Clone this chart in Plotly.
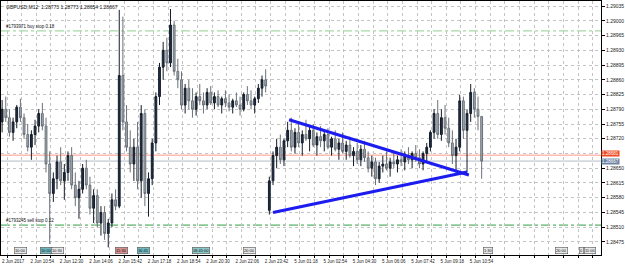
import plotly.graph_objects as go

# ---------------- data ----------------
OPEN = [1.28760, 1.28790, 1.28770, 1.28735, 1.28760, 1.28795, 1.28770, 1.28730, 1.28700, 1.28730,
        1.28750, 1.28780, 1.28750, 1.28660, 1.28590, 1.28625, 1.28665, 1.28620, 1.28640, 1.28680,
        1.28610, 1.28580, 1.28600, 1.28650, 1.28610, 1.28555, 1.28585, 1.28520, 1.28545, 1.28495,
        1.28520, 1.28575, 1.28560, 1.28870, 1.28760, 1.28700, 1.28660, 1.28700, 1.28620, 1.28780,
        1.28590, 1.28625, 1.28710, 1.28820, 1.28890, 1.28930, 1.28900, 1.28990, 1.28880, 1.28860,
        1.28800, 1.28840, 1.28810, 1.28790, 1.28820, 1.28810, 1.28800, 1.28830, 1.28805, 1.28820,
        1.28800, 1.28815, 1.28805, 1.28795, 1.28810, 1.28800, 1.28790, 1.28825, 1.28810, 1.28800,
        1.28815, 1.28840, 1.28860, 1.28550, 1.28620, 1.28680, 1.28700, 1.28670, 1.28715, 1.28740,
        1.28700, 1.28735, 1.28710, 1.28730, 1.28720, 1.28740, 1.28705, 1.28725, 1.28715, 1.28730,
        1.28700, 1.28720, 1.28695, 1.28710, 1.28690, 1.28705, 1.28680, 1.28690, 1.28670, 1.28695,
        1.28675, 1.28650, 1.28665, 1.28625, 1.28655, 1.28660, 1.28650, 1.28665, 1.28660, 1.28670,
        1.28665, 1.28680, 1.28670, 1.28685, 1.28675, 1.28660, 1.28685, 1.28700, 1.28735, 1.28780,
        1.28730, 1.28770, 1.28745, 1.28710, 1.28680, 1.28700, 1.28810, 1.28740, 1.28780, 1.28830,
        1.28790, 1.28773]
HIGH = [1.28812, 1.28820, 1.28790, 1.28770, 1.28800, 1.28815, 1.28780, 1.28755, 1.28740, 1.28765,
        1.28790, 1.28805, 1.28770, 1.28690, 1.28640, 1.28680, 1.28700, 1.28660, 1.28690, 1.28700,
        1.28640, 1.28620, 1.28660, 1.28670, 1.28630, 1.28600, 1.28600, 1.28560, 1.28560, 1.28530,
        1.28590, 1.28600, 1.29026, 1.29010, 1.28800, 1.28740, 1.28720, 1.28760, 1.28800, 1.28790,
        1.28640, 1.28720, 1.28830, 1.28900, 1.28950, 1.28960, 1.29028, 1.29000, 1.28910, 1.28880,
        1.28850, 1.28860, 1.28840, 1.28830, 1.28850, 1.28830, 1.28840, 1.28845, 1.28830, 1.28835,
        1.28820, 1.28835, 1.28825, 1.28815, 1.28830, 1.28820, 1.28830, 1.28845, 1.28835, 1.28820,
        1.28850, 1.28870, 1.28885, 1.28630, 1.28690, 1.28720, 1.28730, 1.28720, 1.28760, 1.28770,
        1.28745, 1.28760, 1.28740, 1.28765, 1.28750, 1.28755, 1.28735, 1.28750, 1.28740, 1.28745,
        1.28725, 1.28740, 1.28720, 1.28735, 1.28715, 1.28725, 1.28700, 1.28710, 1.28705, 1.28715,
        1.28690, 1.28680, 1.28675, 1.28665, 1.28680, 1.28690, 1.28675, 1.28690, 1.28680, 1.28695,
        1.28690, 1.28700, 1.28690, 1.28705, 1.28695, 1.28690, 1.28710, 1.28740, 1.28790, 1.28812,
        1.28790, 1.28800, 1.28770, 1.28740, 1.28720, 1.28824, 1.28820, 1.28790, 1.28850, 1.28840,
        1.28820, 1.28773]
LOW = [1.28735, 1.28760, 1.28725, 1.28715, 1.28745, 1.28760, 1.28720, 1.28690, 1.28670, 1.28705,
       1.28735, 1.28740, 1.28640, 1.28470, 1.28570, 1.28600, 1.28610, 1.28575, 1.28620, 1.28600,
       1.28560, 1.28530, 1.28590, 1.28600, 1.28540, 1.28520, 1.28510, 1.28490, 1.28480, 1.28462,
       1.28510, 1.28550, 1.28555, 1.28740, 1.28690, 1.28640, 1.28620, 1.28600, 1.28580, 1.28560,
       1.28535, 1.28610, 1.28690, 1.28800, 1.28860, 1.28880, 1.28890, 1.28870, 1.28840, 1.28790,
       1.28780, 1.28790, 1.28770, 1.28775, 1.28800, 1.28780, 1.28790, 1.28800, 1.28790, 1.28795,
       1.28780, 1.28795, 1.28785, 1.28780, 1.28795, 1.28775, 1.28785, 1.28800, 1.28790, 1.28780,
       1.28805, 1.28820, 1.28830, 1.28540, 1.28610, 1.28650, 1.28660, 1.28655, 1.28700, 1.28690,
       1.28685, 1.28700, 1.28680, 1.28715, 1.28690, 1.28700, 1.28680, 1.28700, 1.28690, 1.28695,
       1.28680, 1.28690, 1.28670, 1.28685, 1.28670, 1.28675, 1.28655, 1.28660, 1.28655, 1.28665,
       1.28640, 1.28630, 1.28610, 1.28615, 1.28640, 1.28645, 1.28630, 1.28650, 1.28640, 1.28655,
       1.28645, 1.28660, 1.28650, 1.28665, 1.28650, 1.28645, 1.28665, 1.28690, 1.28720, 1.28720,
       1.28715, 1.28730, 1.28700, 1.28660, 1.28640, 1.28690, 1.28720, 1.28640, 1.28760, 1.28770,
       1.28740, 1.28625]
CLOSE = [1.28790, 1.28770, 1.28735, 1.28760, 1.28795, 1.28770, 1.28730, 1.28700, 1.28730, 1.28750,
         1.28780, 1.28750, 1.28660, 1.28590, 1.28625, 1.28665, 1.28620, 1.28640, 1.28680, 1.28610,
         1.28580, 1.28600, 1.28650, 1.28610, 1.28555, 1.28585, 1.28520, 1.28545, 1.28495, 1.28520,
         1.28575, 1.28560, 1.28870, 1.28760, 1.28700, 1.28660, 1.28700, 1.28620, 1.28780, 1.28590,
         1.28625, 1.28710, 1.28820, 1.28890, 1.28930, 1.28900, 1.28990, 1.28880, 1.28860, 1.28800,
         1.28840, 1.28810, 1.28790, 1.28820, 1.28810, 1.28800, 1.28830, 1.28805, 1.28820, 1.28800,
         1.28815, 1.28805, 1.28795, 1.28810, 1.28800, 1.28790, 1.28825, 1.28810, 1.28800, 1.28815,
         1.28840, 1.28860, 1.28845, 1.28620, 1.28680, 1.28700, 1.28670, 1.28715, 1.28740, 1.28700,
         1.28735, 1.28710, 1.28730, 1.28720, 1.28740, 1.28705, 1.28725, 1.28715, 1.28730, 1.28700,
         1.28720, 1.28695, 1.28710, 1.28690, 1.28705, 1.28680, 1.28690, 1.28670, 1.28695, 1.28675,
         1.28650, 1.28665, 1.28625, 1.28655, 1.28660, 1.28650, 1.28665, 1.28660, 1.28670, 1.28665,
         1.28680, 1.28670, 1.28685, 1.28675, 1.28660, 1.28685, 1.28700, 1.28735, 1.28780, 1.28730,
         1.28770, 1.28745, 1.28710, 1.28680, 1.28700, 1.28810, 1.28740, 1.28780, 1.28830, 1.28790,
         1.28773, 1.28667]

TIME_LABELS = ["2 Jun 2017", "2 Jun 10:54", "2 Jun 12:30", "2 Jun 14:06", "2 Jun 15:42",
               "2 Jun 17:18", "2 Jun 18:54", "2 Jun 20:30", "2 Jun 22:06", "2 Jun 23:42",
               "5 Jun 01:18", "5 Jun 02:54", "5 Jun 04:30", "5 Jun 06:06", "5 Jun 07:42",
               "5 Jun 09:18", "5 Jun 10:54"]
PRICE_TICKS = [1.28475, 1.28510, 1.28545, 1.28580, 1.28615, 1.28650, 1.28685, 1.28720, 1.28755,
               1.28790, 1.28825, 1.28860, 1.28895, 1.28930, 1.28965, 1.29000, 1.29035]
HIDDEN_TICK = 1.28685  # covered by the price boxes in the reference

# triangle trend lines (bar index, price)
UPPER_LINE_X = [78.4, 127.5]
UPPER_LINE_Y = [1.28765, 1.28634]
LOWER_LINE_X = [74.0, 127.0]
LOWER_LINE_Y = [1.28545, 1.28641]

BUY_STOP = 1.28976
SELL_STOP = 1.28515
ASK = 1.28681
BID = 1.28667

TITLE = "GBPUSD,M12  1.28773 1.28773 1.28654 1.28667"

# calendar event markers: (bar position, text, fill colour)
EVENTS = [(4.9, "10:00", "#e8e8e8"), (12.1, "10:00", "#6fb8c0"), (15.1, "10:30", "#e8e8e8"),
          (32.5, "15:30", "#d89090"), (38.5, "16:45", "#6fb8c0"), (54.3, "18:45:00", "#8cc8c8"),
          (67.7, "20:00", "#e8e8e8"), (132.7, "1:30", "#e8e8e8"), (152.7, "20:00", "#e8e8e8"),
          (158.2, "0", "#e8e8e8"), (160.6, "11:00", "#e8e8e8")]

FONT = "Liberation Sans"

fig = go.Figure()
fig.add_trace(go.Candlestick(
    x=list(range(len(OPEN))), open=OPEN, high=HIGH, low=LOW, close=CLOSE,
    increasing=dict(line=dict(color="#141c28", width=1), fillcolor="#1f3048"),
    decreasing=dict(line=dict(color="#6a7178", width=1), fillcolor="#a6acb2"),
    whiskerwidth=0, showlegend=False))

for xs, ys in ((UPPER_LINE_X, UPPER_LINE_Y), (LOWER_LINE_X, LOWER_LINE_Y)):
    fig.add_trace(go.Scatter(x=xs, y=ys, mode="lines", line=dict(color="#1c1cf0", width=3),
                             showlegend=False, hoverinfo="skip"))

def hline(y, color, dash, width=1):
    fig.add_shape(type="line", xref="paper", x0=0, x1=1, yref="y", y0=y, y1=y,
                  line=dict(color=color, width=width, dash=dash), layer="below")

hline(BUY_STOP, "#8fd08f", "dashdot")
hline(SELL_STOP, "#2f9f3f", "dashdot")
hline(ASK, "#ff9a88", "solid")
hline(BID, "#b4bcc8", "solid")

ann = []
ann.append(dict(text=TITLE, xref="paper", yref="paper", x=0.005, y=0.995, xanchor="left",
                yanchor="top", showarrow=False, font=dict(size=5, family=FONT, color="#111")))
ann.append(dict(text="#1793971 buy stop 0.18", xref="paper", yref="y", x=0.005, y=BUY_STOP,
                xanchor="left", yanchor="bottom", yshift=0, showarrow=False,
                font=dict(size=4.5, family=FONT, color="#111")))
ann.append(dict(text="#1793245 sell stop 0.12", xref="paper", yref="y", x=0.005, y=SELL_STOP,
                xanchor="left", yanchor="bottom", yshift=0, showarrow=False,
                font=dict(size=4.5, family=FONT, color="#111")))
ann.append(dict(text="%.5f" % ASK, xref="paper", yref="y", x=1.0, y=ASK, xanchor="left",
                yanchor="bottom", yshift=-2, showarrow=False, bgcolor="#f04a23", borderpad=0,
                font=dict(size=4.5, family=FONT, color="white")))
ann.append(dict(text="%.5f" % BID, xref="paper", yref="y", x=1.0, y=ASK, xanchor="left",
                yanchor="top", yshift=-3, showarrow=False, bgcolor="#6d84a3", borderpad=0,
                font=dict(size=4.5, family=FONT, color="white")))
for xpos, txt, col in EVENTS:
    ann.append(dict(text=txt, xref="x", yref="paper", x=xpos, y=0.016, xanchor="center",
                    yanchor="middle", showarrow=False, bgcolor=col, bordercolor="#555",
                    borderwidth=0.6, borderpad=0.3, font=dict(size=4, family=FONT, color="#111")))

grid_vals = [1.35 + 4 * k for k in range(41)]
grid_text = [TIME_LABELS[k // 2] if (k % 2 == 0 and k // 2 < len(TIME_LABELS)) else "" for k in range(41)]
price_text = ["" if v == HIDDEN_TICK else "%.5f" % v for v in PRICE_TICKS]

fig.update_layout(
    width=625, height=265,
    margin=dict(l=1, r=24, t=1, b=10),
    paper_bgcolor="white", plot_bgcolor="white",
    annotations=ann,
    xaxis=dict(range=[-0.3, 163.6], tickvals=grid_vals, ticktext=grid_text,
               showgrid=True, gridcolor="#c4c4c4", griddash="dot", gridwidth=1,
               ticks="outside", ticklen=2, tickcolor="#000", ticklabelshift=6,
               tickfont=dict(size=4.5, family=FONT, color="#222"),
               showline=True, linecolor="#000", linewidth=1, mirror=True,
               rangeslider=dict(visible=False), zeroline=False, fixedrange=True),
    yaxis=dict(side="right", range=[1.28444, 1.29047], tickvals=PRICE_TICKS,
               ticktext=price_text,
               showgrid=True, gridcolor="#c4c4c4", griddash="dot", gridwidth=1,
               ticks="outside", ticklen=3, tickcolor="#000",
               tickfont=dict(size=5, family=FONT, color="#222"),
               showline=True, linecolor="#000", linewidth=1, mirror=True, zeroline=False),
)

fig.write_html("out.html")
